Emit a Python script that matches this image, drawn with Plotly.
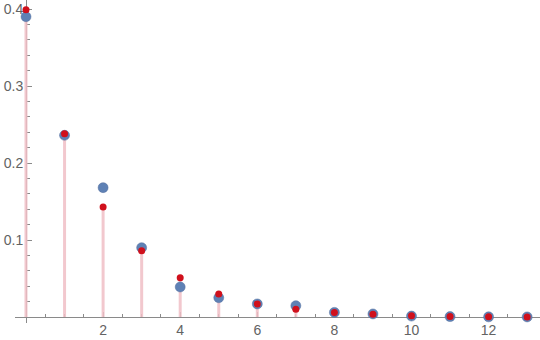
import plotly.graph_objects as go

k = list(range(14))
blue_vals = [0.390, 0.236, 0.168, 0.090, 0.039, 0.025, 0.017, 0.0147, 0.006, 0.004, 0.0012, 0.0005, 0.0002, 0.0001]
red_vals = [0.399, 0.238, 0.143, 0.086, 0.051, 0.030, 0.017, 0.010, 0.006, 0.0035, 0.0015, 0.0006, 0.0002, 0.0001]
x_tick_vals = [2, 4, 6, 8, 10, 12]
y_tick_vals = [0.1, 0.2, 0.3, 0.4]

stem_x, stem_y = [], []
for xi, yi in zip(k, red_vals):
    stem_x += [xi, xi, None]
    stem_y += [0, yi, None]

fig = go.Figure()
fig.add_trace(go.Scatter(x=stem_x, y=stem_y, mode="lines",
                         line=dict(color="rgba(240,190,198,0.85)", width=3),
                         hoverinfo="skip", cliponaxis=False))
fig.add_trace(go.Scatter(x=k, y=blue_vals, mode="markers",
                         marker=dict(color="#5E81B5", size=10,
                                     line=dict(color="#56709e", width=0.5)),
                         cliponaxis=False))
fig.add_trace(go.Scatter(x=k, y=red_vals, mode="markers",
                         marker=dict(color="#D0101C", size=7),
                         cliponaxis=False))

W, H = 540, 340
ml, mb = 15, 17
pw, ph = W - ml, H - mb
x0px, y0px = 26, 317
xs = 38.55
ys = 770.0
xmin = -(x0px - ml) / xs
xmax = (W - x0px) / xs
ymax = y0px / ys
ymin = -(H - mb - y0px) / ys

font = dict(family="Liberation Sans, Arial, sans-serif", size=14, color="#636363")
axcol = "#8a8a8a"

fig.update_layout(
    width=W, height=H,
    margin=dict(l=ml, r=0, t=0, b=mb),
    paper_bgcolor="white", plot_bgcolor="white",
    showlegend=False,
    font=font,
    xaxis=dict(range=[xmin, xmax], showgrid=False, zeroline=False,
               showline=True, linecolor=axcol, linewidth=1,
               anchor="free", position=(H - mb - y0px) / ph,
               tickvals=x_tick_vals, ticks="inside", ticklen=5, tickcolor=axcol,
               minor=dict(tickvals=[i * 0.5 for i in range(1, 27) if i % 4 != 0],
                          ticks="inside", ticklen=3, tickcolor=axcol),
               layer="below traces", automargin=False, tickfont=font),
    yaxis=dict(range=[ymin, ymax], showgrid=False, zeroline=False,
               showline=True, linecolor=axcol, linewidth=1,
               anchor="free", position=(x0px - ml) / pw,
               tickvals=y_tick_vals, tickformat=".1f",
               ticks="inside", ticklen=5, tickcolor=axcol,
               minor=dict(tickvals=[round(i * 0.02, 2) for i in range(1, 21) if i % 5 != 0],
                          ticks="inside", ticklen=3, tickcolor=axcol),
               layer="below traces", automargin=False, tickfont=font),
)

fig.write_html("out.html")
